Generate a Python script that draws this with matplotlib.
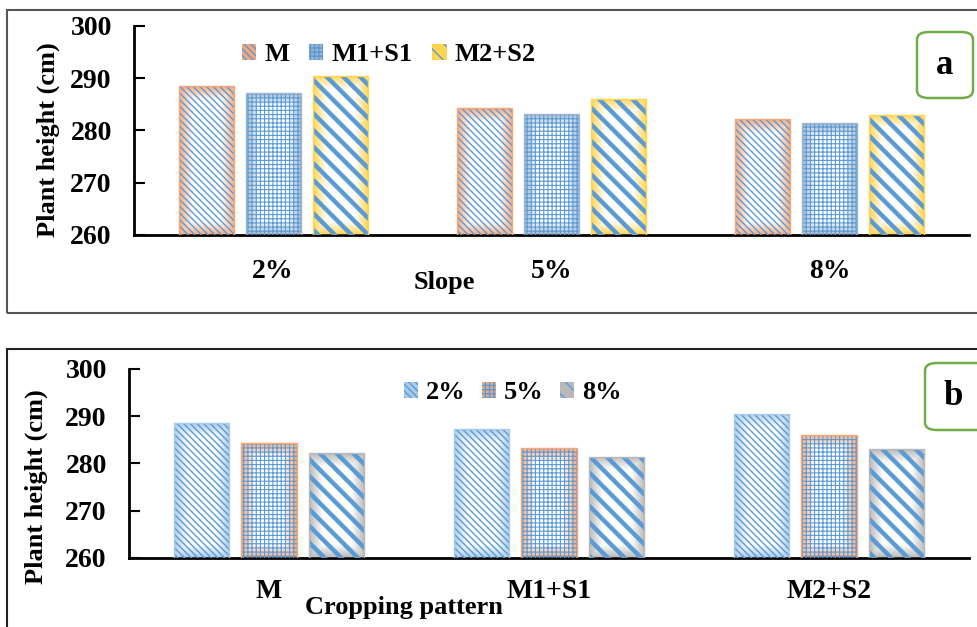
import numpy as np
import matplotlib
matplotlib.use("Agg")
import matplotlib.pyplot as plt
from matplotlib.patches import Patch, Rectangle, FancyBboxPatch
from matplotlib.colors import to_rgb

# ---------------- data ----------------
slopes = ["2%", "5%", "8%"]
patterns = ["M", "M1+S1", "M2+S2"]
m_vals = [288.5, 284.3, 282.2]        # M at 2%, 5%, 8%
m1s1_vals = [287.2, 283.2, 281.4]     # M1+S1 at 2%, 5%, 8%
m2s2_vals = [290.5, 286.1, 283.0]     # M2+S2 at 2%, 5%, 8%
yticks = [260, 270, 280, 290, 300]

plt.rcParams["font.family"] = ["Liberation Serif", "DejaVu Serif"]
plt.rcParams["font.weight"] = "bold"

BLUE = "#5B9BD5"
ORANGE = "#F4A77A"
YELLOW = "#FFD34E"
GREYBLUE = "#9DB5CF"
GREY = "#B8B8B8"

styles = {
    "thin": dict(hatch="\\\\\\\\\\", hlw=1.0),
    "check": dict(hatch="++++", hlw=0.8),
    "thick": dict(hatch="\\\\", hlw=3.2),
}

fig = plt.figure(figsize=(9.78, 6.27), dpi=100)


def grad_bar(ax, x, w, top, base, edgecol, style, fade=14):
    bars = ax.bar([x], [top - base], width=w, bottom=base, facecolor="none",
                  edgecolor=BLUE, linewidth=0, hatch=styles[style]["hatch"], zorder=3)
    b = bars[0]
    if hasattr(b, "set_hatch_linewidth"):
        b.set_hatch_linewidth(styles[style]["hlw"])
    fig.canvas.draw()
    (px0, py0) = ax.transData.transform((x - w / 2, base))
    (px1, py1) = ax.transData.transform((x + w / 2, top))
    wpx, hpx = abs(px1 - px0), abs(py1 - py0)
    nx, ny = max(int(wpx), 2), max(int(hpx), 2)
    u = (np.arange(nx) + 0.5)
    v = (np.arange(ny) + 0.5)
    dx = np.minimum(u, nx - u)[None, :]
    dy = np.minimum(v, ny - v)[:, None]
    d = np.minimum(dx, dy)
    t = np.clip(d / fade, 0, 1)[..., None]
    ec = np.array(to_rgb(edgecol))
    img = ec * (1 - t) + np.ones(3) * t
    im = ax.imshow(img, extent=(x - w / 2, x + w / 2, base, top), aspect="auto",
                   origin="lower", zorder=2, interpolation="bilinear")
    im.set_clip_path(b)
    ax.bar([x], [top - base], width=w, bottom=base, facecolor="none",
           edgecolor=edgecol, linewidth=1.0, zorder=4)


def setup_axes(ax, cats, xpad):
    ax.set_ylim(260, 300)
    ax.set_xlim(-0.5, 2.5)
    ax.set_yticks(yticks)
    ax.set_xticks(range(len(cats)))
    ax.set_xticklabels(cats)
    ax.tick_params(axis="y", direction="in", length=8, width=1.5, labelsize=20, pad=16)
    ax.tick_params(axis="x", length=0, labelsize=20, pad=xpad)
    for s in ["top", "right"]:
        ax.spines[s].set_visible(False)
    ax.spines["left"].set_linewidth(2)
    ax.spines["bottom"].set_linewidth(2)
    ax.set_ylabel("Plant height (cm)", fontsize=19, fontweight="bold")
    for lab in ax.get_yticklabels() + ax.get_xticklabels():
        lab.set_fontweight("bold")


# panel frames
fig.patches.append(Rectangle((7 / 978, 1 - 313 / 627), 1.2, 303 / 627, transform=fig.transFigure,
                             fill=False, edgecolor="#555555", linewidth=1.5, zorder=0))
fig.patches.append(Rectangle((7 / 978, -0.1), 1.2, (0.1 + 1 - 349 / 627), transform=fig.transFigure,
                             fill=False, edgecolor="#222222", linewidth=1.5, zorder=0))

bw = 0.198
off = 0.241

# ---------------- panel a ----------------
axa = fig.add_axes([134 / 978, 1 - 235 / 627, 835 / 978, 209 / 627])
setup_axes(axa, slopes, 17)
series_a = [(m_vals, ORANGE, "thin"), (m1s1_vals, GREYBLUE, "check"), (m2s2_vals, YELLOW, "thick")]
for j, (vals, col, st) in enumerate(series_a):
    for i, v in enumerate(vals):
        grad_bar(axa, i + (j - 1) * off, bw, v, 260, col, st)
axa.set_xlabel("Slope", fontsize=19, fontweight="bold")
axa.xaxis.set_label_coords((444 - 134) / 835, -0.17)
axa.yaxis.set_label_coords((60 - 134) / 835, 0.455)

# ---------------- panel b ----------------
axb = fig.add_axes([129 / 978, 1 - 558 / 627, 840 / 978, 189 / 627])
setup_axes(axb, patterns, 15)
s2 = [m_vals[0], m1s1_vals[0], m2s2_vals[0]]
s5 = [m_vals[1], m1s1_vals[1], m2s2_vals[1]]
s8 = [m_vals[2], m1s1_vals[2], m2s2_vals[2]]
series_b = [(s2, "#A9CBEA", "thin"), (s5, ORANGE, "check"), (s8, GREY, "thick")]
for j, (vals, col, st) in enumerate(series_b):
    for i, v in enumerate(vals):
        grad_bar(axb, i + (j - 1) * off, bw, v, 260, col, st)
axb.set_xlabel("Cropping pattern", fontsize=19, fontweight="bold")
axb.xaxis.set_label_coords((404 - 129) / 840, -0.2)
axb.yaxis.set_label_coords((48 - 129) / 840, 0.38)


def legend_handles(series, labels):
    hs = []
    for (vals, col, st), lab in zip(series, labels):
        hs.append(Patch(facecolor=col, edgecolor=BLUE, linewidth=0,
                        hatch=styles[st]["hatch"], label=lab))
    return hs


lega = axa.legend(handles=legend_handles(series_a, patterns), loc="upper left",
                  bbox_to_anchor=((218 - 134) / 835, 1.03), ncol=3, frameon=False,
                  prop=dict(size=19, weight="bold"), handlelength=0.55, handleheight=0.55,
                  handletextpad=0.3, columnspacing=0.75)
legb = axb.legend(handles=legend_handles(series_b, slopes), loc="upper left",
                  bbox_to_anchor=((380 - 129) / 840, 1.06), ncol=3, frameon=False,
                  prop=dict(size=19, weight="bold"), handlelength=0.55, handleheight=0.55,
                  handletextpad=0.3, columnspacing=0.6)

# panel tags
for (x0, y0, w, h, t) in [(917, 32, 56, 66, "a"), (925, 363, 70, 67, "b")]:
    fig.patches.append(FancyBboxPatch((x0 / 978, 1 - (y0 + h) / 627), w / 978, h / 627,
                                      boxstyle="round,pad=0,rounding_size=0.012",
                                      transform=fig.transFigure, facecolor="white",
                                      edgecolor="#70AD47", linewidth=1.8, zorder=5))
    fig.text((x0 + 28) / 978, 1 - (y0 + h / 2) / 627, t, fontsize=25, fontweight="bold",
             ha="center", va="center", zorder=6)

fig.savefig("out.png", dpi=100)
